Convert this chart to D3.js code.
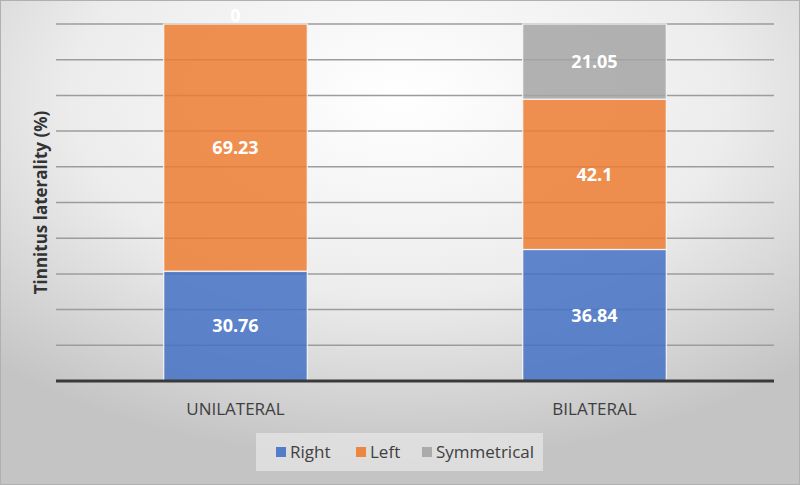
<!DOCTYPE html>
<html>
<head>
  <title>Tinnitus laterality</title>
  <script src="https://cdn.jsdelivr.net/npm/d3@7/dist/d3.min.js"></script>
  <style>
    body { margin: 0; font-family: "Open Sans", sans-serif; }
  </style>
</head>
<body>
  <div id="container"></div>
  <script>
    const categories = ["UNILATERAL", "BILATERAL"];
    const seriesNames = ["Right", "Left", "Symmetrical"];
    const right = [30.76, 36.84];
    const left = [69.23, 42.1];
    const symmetrical = [0, 21.05];
    const yTicks = [0, 10, 20, 30, 40, 50, 60, 70, 80, 90, 100];
    const colors = ["#4472C4", "#ED7D31", "#A5A5A5"];

    const W = 800, H = 485;
    const margin = { top: 24, right: 26, bottom: 104, left: 56 };

    const svg = d3.select("#container").append("svg")
      .attr("width", W).attr("height", H);

    // background gradient like the office chart area
    const defs = svg.append("defs");
    const grad = defs.append("radialGradient")
      .attr("id", "bg").attr("cx", "50%").attr("cy", "20%").attr("r", "75%");
    grad.append("stop").attr("offset", "0%").attr("stop-color", "#ffffff");
    grad.append("stop").attr("offset", "55%").attr("stop-color", "#ececec");
    grad.append("stop").attr("offset", "100%").attr("stop-color", "#c4c4c4");
    svg.append("rect").attr("width", W).attr("height", H).attr("fill", "url(#bg)");
    svg.append("rect").attr("x", 0.5).attr("y", 0.5).attr("width", W - 1).attr("height", H - 1)
      .attr("fill", "none").attr("stroke", "#b0b0b0");

    const x = d3.scaleBand()
      .domain(categories)
      .range([margin.left, W - margin.right])
      .paddingInner(0.6).paddingOuter(0.3);

    const y = d3.scaleLinear()
      .domain([0, 100])
      .range([H - margin.bottom, margin.top]);

    // gridlines
    svg.append("g")
      .selectAll("line")
      .data(yTicks.slice(1))
      .join("line")
      .attr("x1", margin.left).attr("x2", W - margin.right)
      .attr("y1", d => y(d)).attr("y2", d => y(d))
      .attr("stroke", "#9c9c9c").attr("stroke-width", 1.5);

    const rows = categories.map((c, i) => ({
      cat: c, Right: right[i], Left: left[i], Symmetrical: symmetrical[i]
    }));
    const stacked = d3.stack().keys(seriesNames)(rows);

    const layers = svg.append("g")
      .selectAll("g")
      .data(stacked)
      .join("g")
      .attr("fill", (d, i) => colors[i]);

    layers.selectAll("rect")
      .data(d => d)
      .join("rect")
      .attr("x", d => x(d.data.cat))
      .attr("width", x.bandwidth())
      .attr("y", d => y(d[1]))
      .attr("height", d => y(d[0]) - y(d[1]))
      .attr("fill-opacity", 0.85)
      .attr("stroke", "#f4f4f4").attr("stroke-width", 1.2);

    // data labels
    layers.selectAll("text")
      .data(d => d.map(v => ({ v, key: d.key })))
      .join("text")
      .attr("x", d => x(d.v.data.cat) + x.bandwidth() / 2)
      .attr("y", d => d.v[1] - d.v[0] === 0 ? y(d.v[1]) - 8 : (y(d.v[0]) + y(d.v[1])) / 2)
      .attr("dy", "0.35em")
      .attr("text-anchor", "middle")
      .attr("fill", "#ffffff")
      .attr("font-weight", "bold")
      .attr("font-size", 18)
      .text(d => d.v.data[d.key]);

    // baseline
    svg.append("line")
      .attr("x1", margin.left).attr("x2", W - margin.right)
      .attr("y1", y(0)).attr("y2", y(0))
      .attr("stroke", "#3a3a3a").attr("stroke-width", 3);

    // category labels
    svg.append("g")
      .selectAll("text")
      .data(categories)
      .join("text")
      .attr("x", d => x(d) + x.bandwidth() / 2)
      .attr("y", 409)
      .attr("dy", "0.35em")
      .attr("text-anchor", "middle")
      .attr("fill", "#404040")
      .attr("font-size", 17)
      .text(d => d);

    // y axis title
    svg.append("text")
      .attr("transform", `translate(47,${(y(0) + y(100)) / 2}) rotate(-90)`)
      .attr("text-anchor", "middle")
      .attr("fill", "#333")
      .attr("font-weight", "bold")
      .attr("font-size", 17)
      .text("Tinnitus laterality (%)");

    // legend
    const lg = svg.append("g");
    lg.append("rect")
      .attr("x", 256).attr("y", 433).attr("width", 287).attr("height", 38)
      .attr("fill", "#e4e4e4").attr("fill-opacity", 0.8);
    const legendX = [276, 356, 422];
    const items = lg.selectAll("g")
      .data(seriesNames)
      .join("g")
      .attr("transform", (d, i) => `translate(${legendX[i]},452)`);
    items.append("rect")
      .attr("x", 0).attr("y", -5).attr("width", 10).attr("height", 10)
      .attr("fill", (d, i) => colors[i]).attr("fill-opacity", 0.9);
    items.append("text")
      .attr("x", 14).attr("dy", "0.35em")
      .attr("fill", "#404040").attr("font-size", 17)
      .text(d => d);
  </script>
</body>
</html>
